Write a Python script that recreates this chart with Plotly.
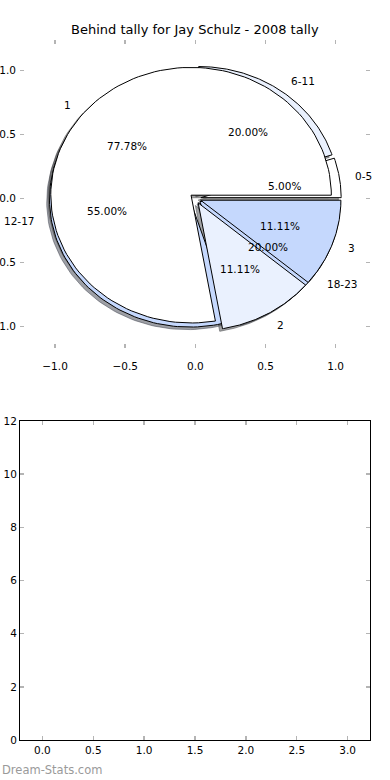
import math
import plotly.graph_objects as go

# ---- data ----
title_text = "Behind tally for Jay Schulz - 2008 tally"
age_labels = ["0-5", "6-11", "12-17", "18-23"]
age_values = [5, 20, 55, 20]
count_labels = ["1", "2", "3"]
count_values = [7, 1, 1]
pie_ticks = [-1.0, -0.5, 0.0, 0.5, 1.0]
bottom_xticks = [0.0, 0.5, 1.0, 1.5, 2.0, 2.5, 3.0]
bottom_yticks = [0, 2, 4, 6, 8, 10, 12]

# ---- style ----
WHITE = (255, 255, 255)
LIGHT = (234, 241, 254)
BLUE = (197, 216, 253)
age_colors = [WHITE, LIGHT, BLUE, BLUE]
count_colors = [WHITE, LIGHT, BLUE]
EXPLODE = 0.04
SHADOW_OFF = -0.02
FONT = "DejaVu Sans"


def wedge_path(t1, t2, cx, cy, n=120):
    xs, ys = [cx], [cy]
    for i in range(n + 1):
        a = math.radians(t1 + (t2 - t1) * i / n)
        xs.append(cx + math.cos(a))
        ys.append(cy + math.sin(a))
    xs.append(cx)
    ys.append(cy)
    return xs, ys


def pie_geometry(values):
    total = float(sum(values))
    out = []
    t = 0.0
    for v in values:
        frac = v / total
        t1, t2 = 360 * t, 360 * (t + frac)
        tm = math.radians((t1 + t2) / 2)
        cx, cy = EXPLODE * math.cos(tm), EXPLODE * math.sin(tm)
        out.append((t1, t2, tm, cx, cy, frac))
        t += frac
    return out


pies = [
    (age_labels, age_values, age_colors),
    (count_labels, count_values, count_colors),
]

fig = go.Figure()
shadows, wedges, annotations = [], [], []

for labels, values, colors in pies:
    geo = pie_geometry(values)
    for (t1, t2, tm, cx, cy, frac), lab, col in zip(geo, labels, colors):
        # shadow
        sx, sy = wedge_path(t1, t2, cx + SHADOW_OFF, cy + SHADOW_OFF)
        sc = "rgba(%d,%d,%d,0.5)" % tuple(int(0.3 * c) for c in col)
        shadows.append(go.Scatter(x=sx, y=sy, mode="lines", fill="toself",
                                  fillcolor=sc, line=dict(color=sc, width=1),
                                  hoverinfo="skip", showlegend=False,
                                  xaxis="x", yaxis="y"))
        wx, wy = wedge_path(t1, t2, cx, cy)
        wedges.append(go.Scatter(x=wx, y=wy, mode="lines", fill="toself",
                                 fillcolor="rgb(%d,%d,%d)" % col,
                                 line=dict(color="black", width=1),
                                 hoverinfo="skip", showlegend=False,
                                 xaxis="x", yaxis="y"))
        # label
        lx = cx + 1.1 * math.cos(tm)
        ly = cy + 1.1 * math.sin(tm)
        annotations.append(dict(x=lx, y=ly, xref="x", yref="y", text=lab,
                                showarrow=False,
                                xanchor="left" if lx > 0 else "right",
                                yanchor="middle",
                                font=dict(family=FONT, size=10.5, color="black")))
        px_ = cx + 0.6 * math.cos(tm)
        py_ = cy + 0.6 * math.sin(tm)
        annotations.append(dict(x=px_, y=py_, xref="x", yref="y",
                                text="%.2f%%" % (frac * 100),
                                showarrow=False, xanchor="center", yanchor="middle",
                                font=dict(family=FONT, size=10.5, color="black")))

for tr in shadows + wedges:
    fig.add_trace(tr)

fig.add_trace(go.Scatter(x=[], y=[], xaxis="x2", yaxis="y2",
                         showlegend=False, hoverinfo="skip"))

W, H = 390, 780


def px_x(a, b):
    return [a / W, b / W]


def px_y(top, bottom):
    return [(H - bottom) / H, (H - top) / H]


tick_common = dict(ticks="inside", ticklen=4, tickwidth=1.5, tickcolor="#b4b4b4",
                   showgrid=False, zeroline=False, mirror="ticks",
                   automargin=False,
                   tickfont=dict(family=FONT, size=10.5, color="black"))

annotations.append(dict(x=0.5, y=(H - 30) / H, xref="paper", yref="paper",
                        text=title_text, showarrow=False, xanchor="center",
                        yanchor="middle",
                        font=dict(family=FONT, size=13, color="black")))
annotations.append(dict(x=0.0, y=(H - 770) / H, xref="paper", yref="paper",
                        text="Dream-Stats.com", showarrow=False, xanchor="left",
                        yanchor="middle",
                        font=dict(family=FONT, size=11.5, color="#9a9a9a")))

fig.update_layout(
    template="none",
    width=W, height=H,
    margin=dict(l=0, r=0, t=0, b=0, autoexpand=False),
    paper_bgcolor="white", plot_bgcolor="white",
    showlegend=False,
    xaxis=dict(domain=px_x(20, 370), range=[-1.25, 1.245], anchor="y",
               tickvals=pie_ticks, tickformat=".1f", showline=False,
               ticklabelstandoff=10, **tick_common),
    yaxis=dict(domain=px_y(40, 348), range=[-1.17, 1.24], anchor="x",
               tickvals=pie_ticks, tickformat=".1f", showline=False,
               ticklabelstandoff=3, **tick_common),
    xaxis2=dict(domain=px_x(20, 370), range=[-0.22, 3.22], anchor="y2",
                tickvals=bottom_xticks, tickformat=".1f", showline=True,
                linecolor="black", linewidth=1, **tick_common),
    yaxis2=dict(domain=px_y(421, 740), range=[0, 12], anchor="x2",
                tickvals=bottom_yticks, showline=True,
                linecolor="black", linewidth=1, **tick_common),
    annotations=annotations,
)

fig.write_html("out.html",
               config={"displayModeBar": False, "staticPlot": True},
               post_script="document.body.style.margin='0';document.body.style.padding='0';")
